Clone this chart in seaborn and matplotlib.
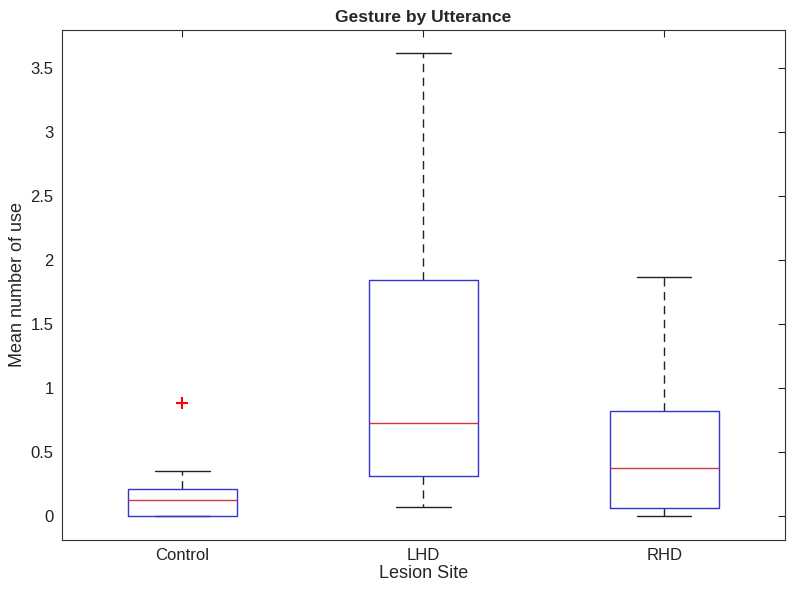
import numpy as np
import pandas as pd
import matplotlib
matplotlib.use("Agg")
import matplotlib.pyplot as plt
import seaborn as sns

control = [0, 0, 0, 0.06, 0.125, 0.17, 0.21, 0.35, 0.88]
lhd = [0.07, 0.2, 0.31, 0.5, 0.727, 1.2, 1.84, 2.6, 3.62]
rhd = [0, 0.03, 0.0625, 0.2, 0.375, 0.6, 0.82, 1.3, 1.87]
sites = ["Control", "LHD", "RHD"]
yticks = [0, 0.5, 1, 1.5, 2, 2.5, 3, 3.5]
yticklabels = ["0", "0.5", "1", "1.5", "2", "2.5", "3", "3.5"]

df = pd.DataFrame({
    "site": ["Control"] * len(control) + ["LHD"] * len(lhd) + ["RHD"] * len(rhd),
    "value": control + lhd + rhd,
})

sns.set_style("white")
plt.rcParams['font.family'] = ['Liberation Sans', 'DejaVu Sans']

fig = plt.figure(figsize=(8, 5.9), dpi=100)
ax = fig.add_axes([0.0775, 0.085, 0.9035, 0.864])

sns.boxplot(data=df, x="site", y="value", order=sites, fill=False, width=0.45,
            whis=1.5, ax=ax,
            boxprops=dict(color="#3535d0", linewidth=1.0, zorder=4),
            medianprops=dict(color="#d03848", linewidth=1.0, zorder=5),
            whiskerprops=dict(color="#222222", linestyle=(0, (6, 4)), linewidth=1.0, zorder=2),
            capprops=dict(color="#222222", linewidth=1.0, zorder=2),
            flierprops=dict(marker="+", markeredgecolor="red", markersize=9,
                            markeredgewidth=1.5, linestyle="none"))

ax.set_xlim(-0.5, 2.5)
ax.set_ylim(-0.19, 3.8)
ax.set_yticks(yticks)
ax.set_yticklabels(yticklabels)
ax.set_title("Gesture by Utterance", fontsize=12.5, fontweight="bold", pad=6)
ax.set_xlabel("Lesion Site", fontsize=13, labelpad=1)
ax.set_ylabel("Mean number of use", fontsize=13, labelpad=3)
ax.tick_params(direction="in", length=5, width=0.8, colors="#222222",
               top=True, right=True, labelsize=12, pad=6)
for s in ax.spines.values():
    s.set_visible(True)
    s.set_color("#333333")
    s.set_linewidth(0.8)

fig.savefig("out.png", dpi=100)
